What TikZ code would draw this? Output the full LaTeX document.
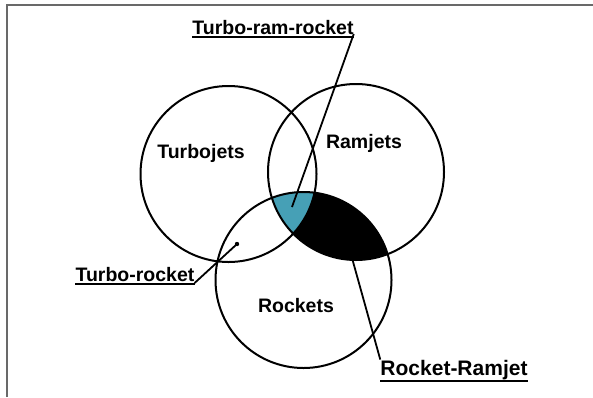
\documentclass[tikz,border=0pt]{standalone}
\usepackage{fontspec}
\setmainfont{Liberation Sans}
\definecolor{framegray}{RGB}{105,105,105}
\definecolor{tealfill}{RGB}{70,160,182}
\begin{document}
\begin{tikzpicture}[x=1pt,y=-1pt,
  circ/.style={draw=black,line width=2pt,circle,minimum size=176pt,inner sep=0pt},
  lbl/.style={font=\fontsize{19.5}{19.5}\selectfont\bfseries,inner sep=0pt,anchor=base},
  conn/.style={draw=black,line width=1.8pt},
  uline/.style={draw=black,line width=1.5pt},
  framepen/.style={draw=framegray,line width=2pt}]
\useasboundingbox (0,0) rectangle (593,397);
\fill[white] (0,0) rectangle (593,397);
\draw[framepen] (6.7,397) -- (6.7,4.7) -- (593,4.7);

\coordinate (cT) at (228.5,174);
\coordinate (cR) at (356,172);
\coordinate (cK) at (303.5,280);

% shaded regions
\begin{scope}
  \clip (cR) circle (88pt);
  \fill[black] (cK) circle (88pt);
  \clip (cK) circle (88pt);
  \fill[tealfill] (cT) circle (88pt);
\end{scope}

% circles
\node[circ] (T) at (cT) {};
\node[circ] (R) at (cR) {};
\node[circ] (K) at (cK) {};

% circle labels
\node[lbl] (lT) at (201,158) {Turbojets};
\node[lbl] (lR) at (364,148) {Ramjets};
\node[lbl] (lK) at (296,312) {Rockets};

% callout labels
\node[lbl] (lTRR) at (273,34) {Turbo-ram-rocket};
\node[lbl] (lTR) at (135,281) {Turbo-rocket};
\node[lbl,font=\fontsize{21}{21}\selectfont\bfseries] (lRR) at (454,375) {Rocket-Ramjet};

\draw[uline] ([yshift=-3pt]lTRR.base west) -- ([yshift=-3pt]lTRR.base east);
\draw[uline] ([yshift=-3pt]lTR.base west) -- ([yshift=-3pt]lTR.base east);
\draw[uline] ([yshift=-6pt]lRR.base west) -- ([yshift=-6pt]lRR.base east);

% connectors
\coordinate (trrEnd) at (292,207);
\coordinate (trDot) at (237,244);
\coordinate (rrStart) at (352,258);

\draw[conn] (lTRR.base east) -- (trrEnd);
\draw[conn] ([yshift=-2pt]lTR.base east) -- (trDot);
\fill (trDot) circle (2.2pt);
\draw[conn] (rrStart) -- (lRR.north west);
\end{tikzpicture}
\end{document}
